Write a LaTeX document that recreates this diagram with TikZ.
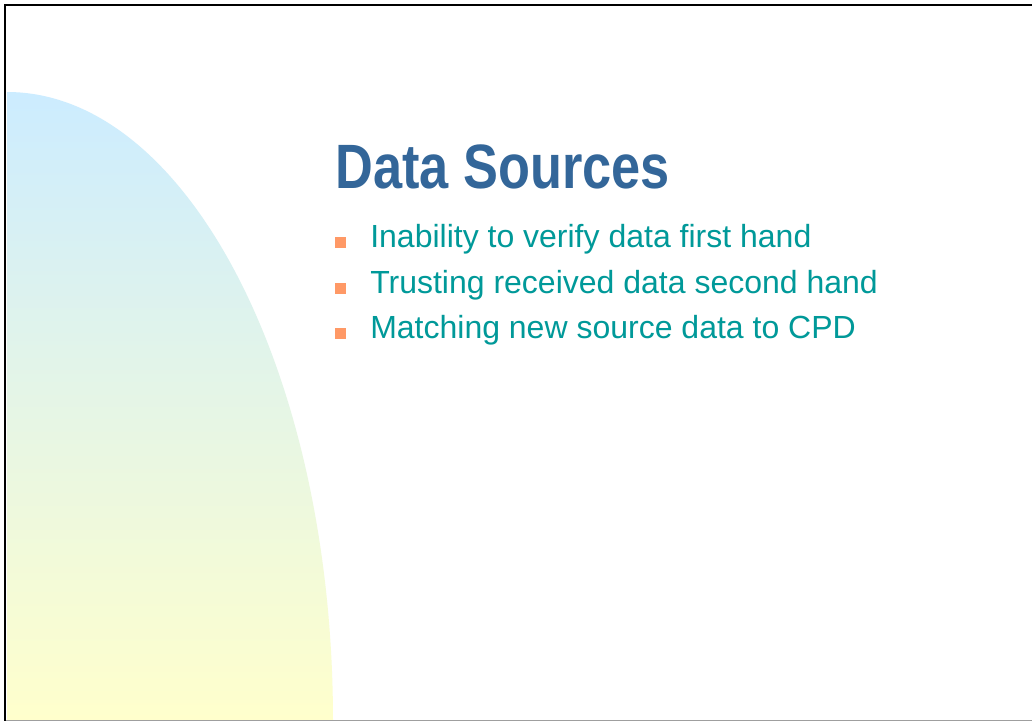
\documentclass[tikz,border=0pt]{standalone}
\usepackage{fontspec}
\setmainfont{Liberation Sans}
\newfontfamily\titlefont[FakeStretch=0.835]{Liberation Sans Bold}
\definecolor{titleblue}{HTML}{336699}
\definecolor{bodyteal}{HTML}{009999}
\definecolor{bulletorange}{HTML}{FF9966}
\definecolor{skyblue}{HTML}{CCECFF}
\definecolor{paleyellow}{HTML}{FFFFCC}
\tikzset{
  titletext/.style={anchor=base west, inner sep=0pt, text=titleblue, font=\titlefont\fontsize{47}{50}\selectfont},
  bullettext/.style={anchor=base west, inner sep=0pt, text=bodyteal, font=\fontsize{24}{28}\selectfont},
  bulletbox/.style={anchor=south west, fill=bulletorange, draw=none, inner sep=0pt, outer sep=0pt, minimum width=8pt, minimum height=8pt},
}
\begin{document}
\begin{tikzpicture}[x=0.75pt,y=-0.75pt]
\useasboundingbox (0,0) rectangle (1032,721);
\fill[white] (0,0) rectangle (1032,721);
% background quarter ellipse with vertical gradient
\shade[top color=skyblue, bottom color=paleyellow]
  (7,721) -- (7,92) arc[start angle=-90, end angle=0, x radius=326, y radius=629] -- cycle;
% frame
\draw[gray!75, line width=0.75pt] (5,720) -- (1032,720);
\draw[black, line width=2pt] (1032,5) -- (5,5) -- (5,721);
% title
\node[titletext] (title) at (335,188) {Data Sources};
% bullets
\node[bulletbox] (b1) at (335,248) {};
\node[bullettext] (t1) at (370,247.5) {Inability to verify data first hand};
\node[bulletbox] (b2) at (335,293.5) {};
\node[bullettext] (t2) at (370,293) {Trusting received data second hand};
\node[bulletbox] (b3) at (335,338.5) {};
\node[bullettext] (t3) at (370,338) {Matching new source data to CPD};
\end{tikzpicture}
\end{document}
